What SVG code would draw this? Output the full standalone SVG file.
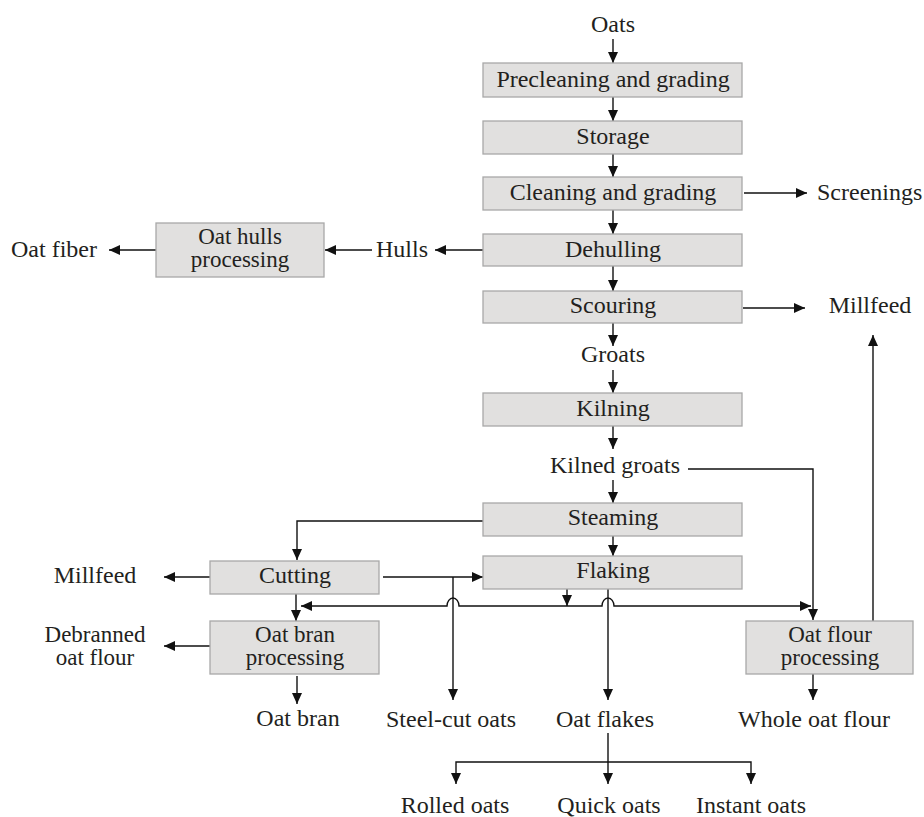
<svg xmlns="http://www.w3.org/2000/svg" width="924" height="817" viewBox="0 0 924 817">
<defs>
<marker id="ah" markerUnits="userSpaceOnUse" markerWidth="12" markerHeight="11" refX="11" refY="5" orient="auto">
<path d="M0,0 L11,5 L0,10 z" fill="#111"/>
</marker>
<style>
.box{fill:#e1e0df;stroke:#a8a8a8;stroke-width:1.3}
text{font-family:"Liberation Serif","Times New Roman",serif;font-size:24px;fill:#231f20;text-anchor:middle}
.t2{font-size:23px}
.c{fill:none;stroke:#111;stroke-width:1.4}
.a{marker-end:url(#ah)}
</style>
</defs>
<rect width="924" height="817" fill="#fff"/>

<g id="connectors">
<path class="c a" d="M613,39 V63"/>
<path class="c a" d="M613,97 V121"/>
<path class="c a" d="M613,154 V177"/>
<path class="c a" d="M613,210 V234"/>
<path class="c a" d="M613,266 V291"/>
<path class="c a" d="M744,193 H807"/>
<path class="c a" d="M483,250 H435"/>
<path class="c a" d="M372,250 H325"/>
<path class="c a" d="M156,250 H109"/>
<path class="c a" d="M743,308 H805"/>
<path class="c a" d="M613,323 V346"/>
<path class="c a" d="M613,370 V393"/>
<path class="c a" d="M613,426 V449"/>
<path class="c a" d="M613,480 V503"/>
<path class="c a" d="M688,469 H813 V620"/>
<path class="c a" d="M613,536 V556"/>
<path class="c a" d="M483,521 H297 V560"/>
<path class="c a" d="M383,577 H483"/>
<path class="c a" d="M453,577 V700"/>
<path class="c a" d="M567,589 V606"/>
<path class="c a" d="M567,606 H459 A6,8 0 0 0 447,606 H301"/>
<path class="c a" d="M567,606 H602 A6,8 0 0 1 614,606 H811"/>
<path class="c a" d="M608,589 V700"/>
<path class="c a" d="M296,594 V621"/>
<path class="c a" d="M210,577 H164"/>
<path class="c a" d="M210,646 H164"/>
<path class="c a" d="M297,676 V704"/>
<path class="c a" d="M813,674 V700"/>
<path class="c a" d="M873,621 V335"/>
<path class="c a" d="M608,733 V784"/>
<path class="c a" d="M608,762 H456 V784"/>
<path class="c a" d="M608,762 H751 V784"/>
</g>

<g id="oats"><text x="613" y="32">Oats</text></g>
<g id="precleaning"><rect class="box" x="483" y="63" width="259" height="34"/><text x="613" y="87">Precleaning and grading</text></g>
<g id="storage"><rect class="box" x="483" y="121" width="259" height="33"/><text x="613" y="144">Storage</text></g>
<g id="cleaning"><rect class="box" x="483" y="177" width="259" height="33"/><text x="613" y="200">Cleaning and grading</text></g>
<g id="screenings"><text x="817" y="200" style="text-anchor:start">Screenings</text></g>
<g id="dehulling"><rect class="box" x="483" y="234" width="259" height="32"/><text x="613" y="257">Dehulling</text></g>
<g id="hulls"><text x="402" y="257">Hulls</text></g>
<g id="oathulls"><rect class="box" x="156" y="223" width="168" height="54"/><text class="t2" x="240" y="244">Oat hulls</text><text class="t2" x="240" y="267">processing</text></g>
<g id="oatfiber"><text x="54" y="257">Oat fiber</text></g>
<g id="scouring"><rect class="box" x="483" y="291" width="259" height="32"/><text x="613" y="313">Scouring</text></g>
<g id="millfeed1"><text x="870" y="313">Millfeed</text></g>
<g id="groats"><text x="613" y="362">Groats</text></g>
<g id="kilning"><rect class="box" x="483" y="393" width="259" height="33"/><text x="613" y="416">Kilning</text></g>
<g id="kilnedgroats"><text x="615" y="473">Kilned groats</text></g>
<g id="steaming"><rect class="box" x="483" y="503" width="259" height="33"/><text x="613" y="525">Steaming</text></g>
<g id="flaking"><rect class="box" x="483" y="556" width="259" height="33"/><text x="613" y="578">Flaking</text></g>
<g id="cutting"><rect class="box" x="210" y="561" width="169" height="33"/><text x="295" y="583">Cutting</text></g>
<g id="millfeed2"><text x="95" y="583">Millfeed</text></g>
<g id="oatbranproc"><rect class="box" x="210" y="621" width="169" height="53"/><text class="t2" x="295" y="642">Oat bran</text><text class="t2" x="295" y="665">processing</text></g>
<g id="debranned"><text class="t2" x="95" y="642">Debranned</text><text class="t2" x="95" y="665">oat flour</text></g>
<g id="oatflourproc"><rect class="box" x="746" y="621" width="167" height="53"/><text class="t2" x="830" y="642">Oat flour</text><text class="t2" x="830" y="665">processing</text></g>
<g id="oatbran"><text x="298" y="726">Oat bran</text></g>
<g id="steelcut"><text x="451" y="727">Steel-cut oats</text></g>
<g id="oatflakes"><text x="605" y="727">Oat flakes</text></g>
<g id="wholeoatflour"><text x="814" y="727">Whole oat flour</text></g>
<g id="rolled"><text x="455" y="813">Rolled oats</text></g>
<g id="quick"><text x="609" y="813">Quick oats</text></g>
<g id="instant"><text x="751" y="813">Instant oats</text></g>
</svg>
